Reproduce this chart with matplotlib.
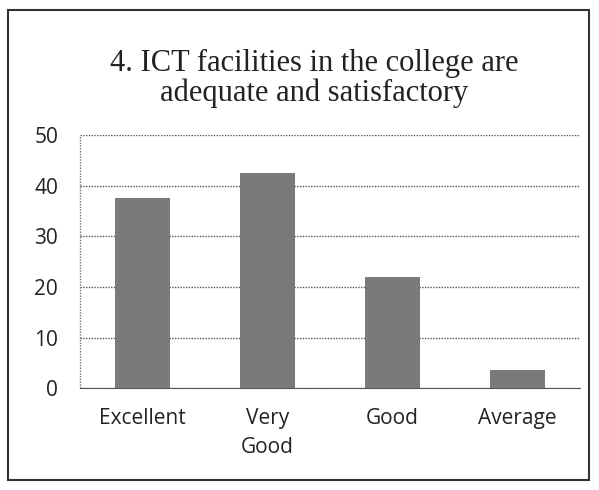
import matplotlib.pyplot as plt
from matplotlib.patches import Rectangle

categories = ['Excellent', 'Very\nGood', 'Good', 'Average']
values = [37.5, 42.5, 22, 3.5]
yticks = [0, 10, 20, 30, 40, 50]

fig = plt.figure(figsize=(5.99, 4.9), dpi=100)
ax = fig.add_axes([0.134, 0.208, 0.834, 0.516])

ax.bar(range(len(categories)), values, width=0.44, color='#7a7a7a', zorder=3)
ax.set_xlim(-0.5, len(categories) - 0.5)
ax.set_ylim(0, 50)
ax.set_yticks(yticks)
ax.set_xticks(range(len(categories)))
ax.set_xticklabels(categories, fontsize=15, family='Open Sans', color='#222222',
                   linespacing=1.5, va='top')
ax.tick_params(axis='y', labelsize=15, labelcolor='#222222', length=0, pad=16)
ax.tick_params(axis='x', length=0, pad=14)
for lab in ax.get_yticklabels():
    lab.set_family('Open Sans')
ax.yaxis.grid(True, color='#555555', linestyle=(0, (1, 1)), linewidth=1, zorder=0)
for side in ['top', 'right', 'left']:
    ax.spines[side].set_visible(False)
ax.spines['bottom'].set_color('#555555')
ax.spines['bottom'].set_linestyle((0, (1, 1)))
ax.plot([-0.5, -0.5], [0, 50], color='#777777', linestyle=(0, (1, 1)), linewidth=1, clip_on=False)

fig.text(0.525, 0.84, '4. ICT facilities in the college are\nadequate and satisfactory',
         ha='center', va='center', fontsize=22, family='Liberation Serif',
         linespacing=1.0, color='#222222')

fig.patches.append(Rectangle((0.014, 0.02), 0.97, 0.96, transform=fig.transFigure,
                             fill=False, edgecolor='#333333', linewidth=1.5))

fig.savefig('out.png', dpi=100)
